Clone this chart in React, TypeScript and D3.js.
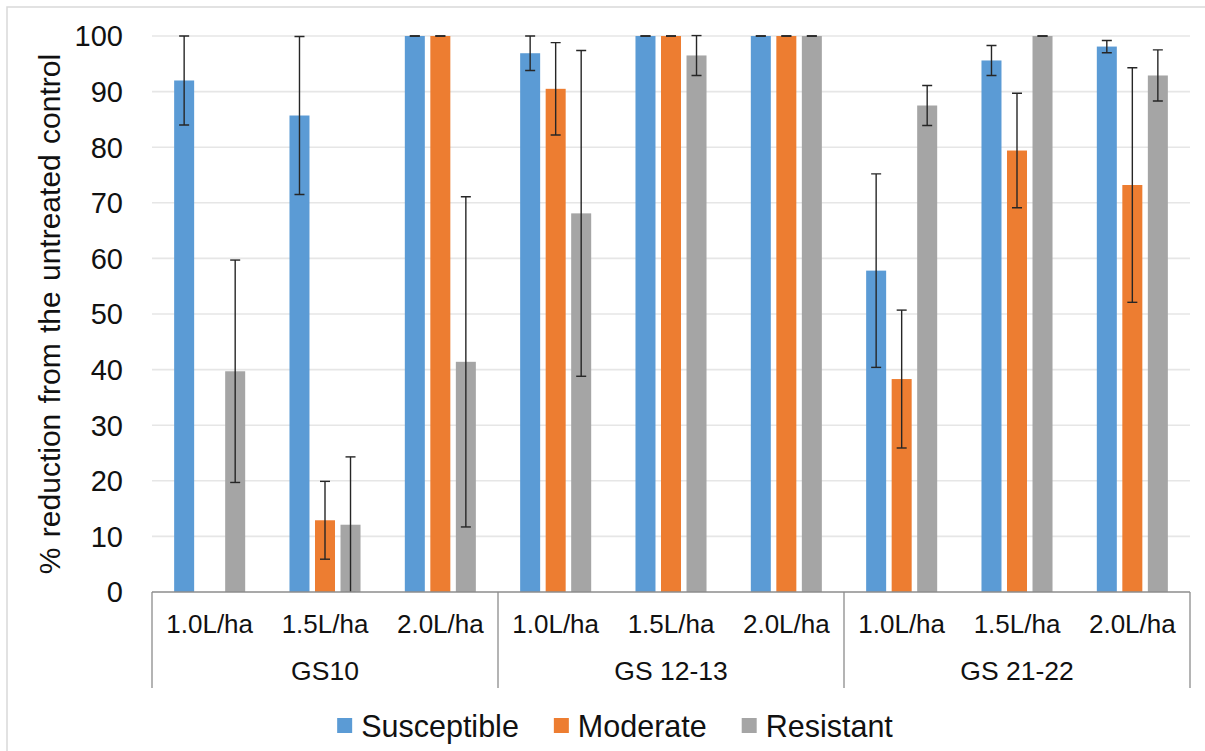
import React from "react";
import * as d3 from "d3";

// Dose rates within each growth stage, and the growth stages themselves
const doses = ["1.0L/ha", "1.5L/ha", "2.0L/ha"];
const stages = ["GS10", "GS 12-13", "GS 21-22"];
const seriesNames = ["Susceptible", "Moderate", "Resistant"];
const seriesColors = ["#5B9BD5", "#ED7D31", "#A5A5A5"];
const yTicks = [0, 10, 20, 30, 40, 50, 60, 70, 80, 90, 100];

// % reduction from the untreated control, one entry per stage × dose
const susceptible = [92, 85.7, 100, 96.9, 100, 100, 57.8, 95.6, 98.1];
const susceptibleErr = [8, 14.2, 0, 3.1, 0, 0, 17.4, 2.7, 1.1];
const moderate = [0, 12.9, 100, 90.5, 100, 100, 38.3, 79.4, 73.2];
const moderateErr = [0, 7, 0, 8.3, 0, 0, 12.4, 10.3, 21.1];
const resistant = [39.7, 12.1, 41.4, 68.1, 96.5, 100, 87.5, 100, 92.9];
const resistantErr = [20, 12.2, 29.7, 29.3, 3.6, 0, 3.6, 0, 4.6];

const values = [susceptible, moderate, resistant];
const errors = [susceptibleErr, moderateErr, resistantErr];

const W = 1205;
const H = 751;
const left = 152;
const right = 1190;
const top = 36;
const bottom = 592;
const font = "'Liberation Sans', Arial, sans-serif";

const categoryKeys = stages.flatMap((s) => doses.map((d) => `${s}|${d}`));

const x = d3.scaleBand<string>().domain(categoryKeys).range([left, right]).padding(0);
const xInner = d3
  .scaleBand<string>()
  .domain(seriesNames)
  .range([0, x.bandwidth()])
  .paddingInner(0.216)
  .paddingOuter(0.868);
const y = d3.scaleLinear().domain([0, 100]).range([bottom, top]);

function measure(text: string, size: number) {
  if (typeof document === "undefined") return text.length * size * 0.5;
  const c = document.createElement("canvas").getContext("2d");
  if (!c) return text.length * size * 0.5;
  c.font = `${size}px 'Liberation Sans'`;
  return c.measureText(text).width;
}

export default function App() {
  const groupWidth = x.step() * doses.length;
  const legendSize = 30.5;
  const sq = 15;
  const sqGap = 9;
  const itemGap = 35;
  const widths = seriesNames.map((n) => sq + sqGap + measure(n, legendSize));
  const total = d3.sum(widths) + itemGap * (seriesNames.length - 1);
  let lx = 615 - total / 2;
  const legendItems = seriesNames.map((n, i) => {
    const pos = lx;
    lx += widths[i] + itemGap;
    return { name: n, x: pos, color: seriesColors[i] };
  });

  return (
    <svg
      width={W}
      height={H}
      style={{ position: "absolute", left: 0, top: 0, background: "#fff" }}
      fontFamily={font}
    >
      <defs>
        <clipPath id="plotClip">
          <rect x={left} y={top - 1.5} width={right - left} height={bottom - top + 1.5} />
        </clipPath>
      </defs>
      <rect x={0} y={0} width={W} height={H} fill="#fff" />
      {/* outer chart frame */}
      <rect x={7} y={7} width={W + 10} height={H + 10} fill="none" stroke="#D9D9D9" strokeWidth={1.5} />

      {/* gridlines */}
      {yTicks.slice(1).map((t) => (
        <line key={t} x1={left} x2={right} y1={y(t)} y2={y(t)} stroke="#E6E6E6" strokeWidth={1.6} />
      ))}

      {/* y tick labels */}
      {yTicks.map((t) => (
        <text key={t} x={123} y={y(t)} dy="0.36em" textAnchor="end" fontSize={29} fill="#111">
          {t}
        </text>
      ))}

      {/* y title */}
      <text
        transform={`translate(60, ${(top + bottom) / 2}) rotate(-90)`}
        textAnchor="middle"
        fontSize={30}
        wordSpacing={2}
        fill="#111"
      >
        % reduction from the untreated control
      </text>

      {/* bars */}
      {seriesNames.map((s, si) =>
        categoryKeys.map((c, ci) => {
          const v = values[si][ci];
          if (v <= 0) return null;
          const bx = (x(c) as number) + (xInner(s) as number);
          return (
            <rect
              key={`${s}-${c}`}
              x={bx}
              y={y(v)}
              width={xInner.bandwidth()}
              height={y(0) - y(v)}
              fill={seriesColors[si]}
            />
          );
        })
      )}

      {/* error bars */}
      <g clipPath="url(#plotClip)" stroke="#262626" strokeWidth={1.4}>
        {seriesNames.map((s, si) =>
          categoryKeys.map((c, ci) => {
            const v = values[si][ci];
            const e = errors[si][ci];
            if (v <= 0) return null;
            const cx = (x(c) as number) + (xInner(s) as number) + xInner.bandwidth() / 2;
            const y1 = y(v + e);
            const y2 = y(v - e);
            return (
              <g key={`e-${s}-${c}`}>
                {e > 0 && <line x1={cx} x2={cx} y1={y1} y2={y2} />}
                <line x1={cx - 5} x2={cx + 5} y1={y1} y2={y1} />
                <line x1={cx - 5} x2={cx + 5} y1={y2} y2={y2} />
              </g>
            );
          })
        )}
      </g>

      {/* category axis */}
      <line x1={left} x2={right} y1={bottom} y2={bottom} stroke="#8C8C8C" strokeWidth={1.3} />
      {d3.range(stages.length + 1).map((i) => (
        <line
          key={`sep-${i}`}
          x1={left + i * groupWidth}
          x2={left + i * groupWidth}
          y1={bottom}
          y2={688}
          stroke="#8C8C8C"
          strokeWidth={1.3}
        />
      ))}
      {categoryKeys.map((c) => (
        <text
          key={`lab-${c}`}
          x={(x(c) as number) + x.bandwidth() / 2}
          y={632.5}
          textAnchor="middle"
          fontSize={26}
          fill="#111"
        >
          {c.split("|")[1]}
        </text>
      ))}
      {stages.map((s, i) => (
        <text
          key={`stage-${s}`}
          x={left + (i + 0.5) * groupWidth}
          y={680}
          textAnchor="middle"
          fontSize={26.5}
          fill="#111"
        >
          {s}
        </text>
      ))}

      {/* legend */}
      {legendItems.map((it) => (
        <g key={`lg-${it.name}`}>
          <rect x={it.x} y={718} width={sq} height={sq} fill={it.color} />
          <text x={it.x + sq + sqGap} y={736.5} fontSize={legendSize} fill="#111">
            {it.name}
          </text>
        </g>
      ))}
    </svg>
  );
}
